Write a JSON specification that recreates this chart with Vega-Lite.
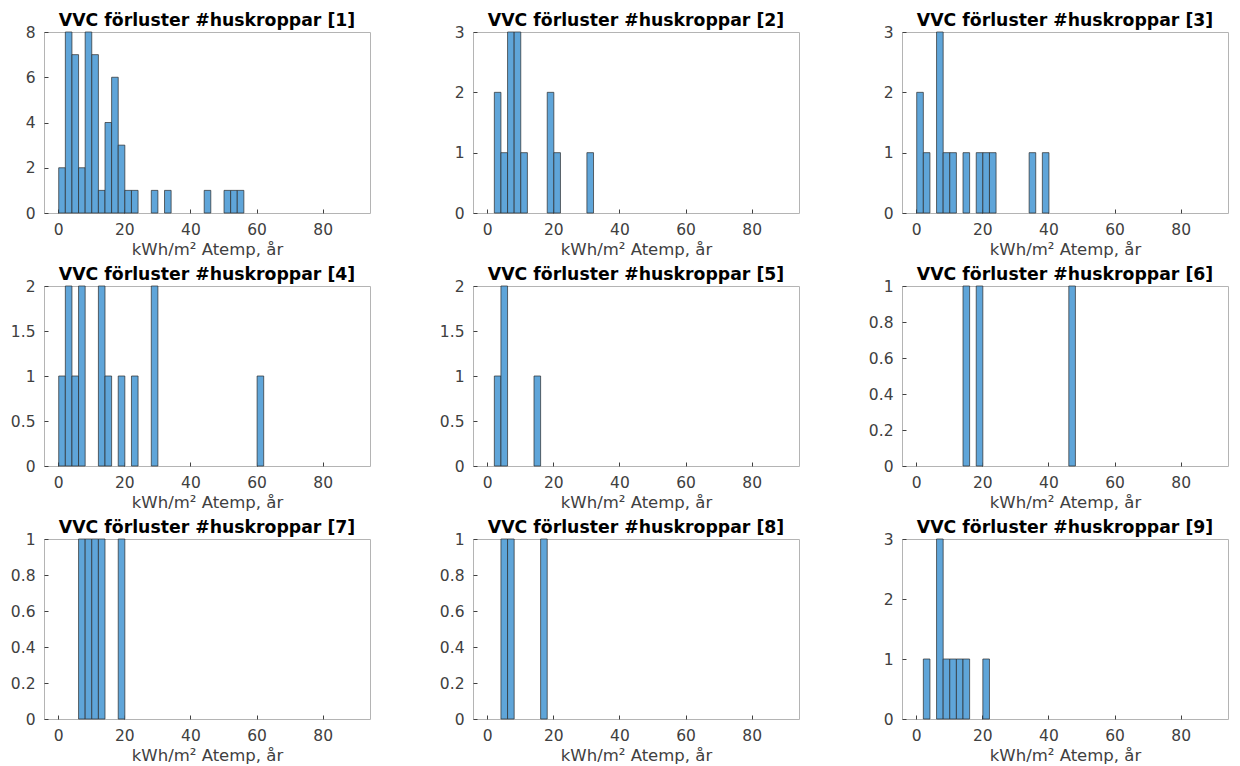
{
  "$schema": "https://vega.github.io/schema/vega-lite/v6.json",
  "padding": {"left": 9, "top": 11, "right": 5, "bottom": 5},
  "background": "white",
  "bounds": "flush",
  "columns": 3,
  "spacing": {"row": 73, "column": 103},
  "config": {
    "font": "DejaVu Sans",
    "view": {"stroke": "#b4b4b4", "strokeWidth": 1},
    "title": {"font": "DejaVu Sans", "fontSize": 17.3, "fontWeight": "bold", "color": "#000000", "offset": -4},
    "bar": {"binSpacing": 0},
    "axis": {
      "labelFont": "DejaVu Sans", "labelFontSize": 15.5, "labelColor": "#404040",
      "titleFont": "DejaVu Sans", "titleFontSize": 16.5, "titleFontWeight": "normal", "titleColor": "#404040",
      "grid": false, "domain": false, "tickColor": "#404040", "tickSize": -4, "tickWidth": 1, "format": "~g"
    },
    "axisX": {"labelPadding": 13, "titlePadding": 4, "labelFlush": false},
    "axisY": {"labelPadding": 13, "title": null, "labelFlush": false}
  },
  "data": {"values": [
    {"panel": 1, "bin_start": 0, "bin_end": 2, "count": 2},
    {"panel": 1, "bin_start": 2, "bin_end": 4, "count": 8},
    {"panel": 1, "bin_start": 4, "bin_end": 6, "count": 7},
    {"panel": 1, "bin_start": 6, "bin_end": 8, "count": 2},
    {"panel": 1, "bin_start": 8, "bin_end": 10, "count": 8},
    {"panel": 1, "bin_start": 10, "bin_end": 12, "count": 7},
    {"panel": 1, "bin_start": 12, "bin_end": 14, "count": 1},
    {"panel": 1, "bin_start": 14, "bin_end": 16, "count": 4},
    {"panel": 1, "bin_start": 16, "bin_end": 18, "count": 6},
    {"panel": 1, "bin_start": 18, "bin_end": 20, "count": 3},
    {"panel": 1, "bin_start": 20, "bin_end": 22, "count": 1},
    {"panel": 1, "bin_start": 22, "bin_end": 24, "count": 1},
    {"panel": 1, "bin_start": 28, "bin_end": 30, "count": 1},
    {"panel": 1, "bin_start": 32, "bin_end": 34, "count": 1},
    {"panel": 1, "bin_start": 44, "bin_end": 46, "count": 1},
    {"panel": 1, "bin_start": 50, "bin_end": 52, "count": 1},
    {"panel": 1, "bin_start": 52, "bin_end": 54, "count": 1},
    {"panel": 1, "bin_start": 54, "bin_end": 56, "count": 1},
    {"panel": 2, "bin_start": 2, "bin_end": 4, "count": 2},
    {"panel": 2, "bin_start": 4, "bin_end": 6, "count": 1},
    {"panel": 2, "bin_start": 6, "bin_end": 8, "count": 3},
    {"panel": 2, "bin_start": 8, "bin_end": 10, "count": 3},
    {"panel": 2, "bin_start": 10, "bin_end": 12, "count": 1},
    {"panel": 2, "bin_start": 18, "bin_end": 20, "count": 2},
    {"panel": 2, "bin_start": 20, "bin_end": 22, "count": 1},
    {"panel": 2, "bin_start": 30, "bin_end": 32, "count": 1},
    {"panel": 3, "bin_start": 0, "bin_end": 2, "count": 2},
    {"panel": 3, "bin_start": 2, "bin_end": 4, "count": 1},
    {"panel": 3, "bin_start": 6, "bin_end": 8, "count": 3},
    {"panel": 3, "bin_start": 8, "bin_end": 10, "count": 1},
    {"panel": 3, "bin_start": 10, "bin_end": 12, "count": 1},
    {"panel": 3, "bin_start": 14, "bin_end": 16, "count": 1},
    {"panel": 3, "bin_start": 18, "bin_end": 20, "count": 1},
    {"panel": 3, "bin_start": 20, "bin_end": 22, "count": 1},
    {"panel": 3, "bin_start": 22, "bin_end": 24, "count": 1},
    {"panel": 3, "bin_start": 34, "bin_end": 36, "count": 1},
    {"panel": 3, "bin_start": 38, "bin_end": 40, "count": 1},
    {"panel": 4, "bin_start": 0, "bin_end": 2, "count": 1},
    {"panel": 4, "bin_start": 2, "bin_end": 4, "count": 2},
    {"panel": 4, "bin_start": 4, "bin_end": 6, "count": 1},
    {"panel": 4, "bin_start": 6, "bin_end": 8, "count": 2},
    {"panel": 4, "bin_start": 12, "bin_end": 14, "count": 2},
    {"panel": 4, "bin_start": 14, "bin_end": 16, "count": 1},
    {"panel": 4, "bin_start": 18, "bin_end": 20, "count": 1},
    {"panel": 4, "bin_start": 22, "bin_end": 24, "count": 1},
    {"panel": 4, "bin_start": 28, "bin_end": 30, "count": 2},
    {"panel": 4, "bin_start": 60, "bin_end": 62, "count": 1},
    {"panel": 5, "bin_start": 2, "bin_end": 4, "count": 1},
    {"panel": 5, "bin_start": 4, "bin_end": 6, "count": 2},
    {"panel": 5, "bin_start": 14, "bin_end": 16, "count": 1},
    {"panel": 6, "bin_start": 14, "bin_end": 16, "count": 1},
    {"panel": 6, "bin_start": 18, "bin_end": 20, "count": 1},
    {"panel": 6, "bin_start": 46, "bin_end": 48, "count": 1},
    {"panel": 7, "bin_start": 6, "bin_end": 8, "count": 1},
    {"panel": 7, "bin_start": 8, "bin_end": 10, "count": 1},
    {"panel": 7, "bin_start": 10, "bin_end": 12, "count": 1},
    {"panel": 7, "bin_start": 12, "bin_end": 14, "count": 1},
    {"panel": 7, "bin_start": 18, "bin_end": 20, "count": 1},
    {"panel": 8, "bin_start": 4, "bin_end": 6, "count": 1},
    {"panel": 8, "bin_start": 6, "bin_end": 8, "count": 1},
    {"panel": 8, "bin_start": 16, "bin_end": 18, "count": 1},
    {"panel": 9, "bin_start": 2, "bin_end": 4, "count": 1},
    {"panel": 9, "bin_start": 6, "bin_end": 8, "count": 3},
    {"panel": 9, "bin_start": 8, "bin_end": 10, "count": 1},
    {"panel": 9, "bin_start": 10, "bin_end": 12, "count": 1},
    {"panel": 9, "bin_start": 12, "bin_end": 14, "count": 1},
    {"panel": 9, "bin_start": 14, "bin_end": 16, "count": 1},
    {"panel": 9, "bin_start": 20, "bin_end": 22, "count": 1}
  ]},
  "concat": [
    {"title": "VVC förluster #huskroppar [1]", "width": 326, "height": 181,
     "transform": [{"filter": "datum.panel == 1"}],
     "mark": {"type": "bar", "fill": "#5fa5d9", "stroke": "#2b2b2b", "strokeWidth": 0.7},
     "encoding": {
       "x": {"field": "bin_start", "type": "quantitative", "bin": {"binned": true, "step": 2}, "scale": {"domain": [-4.3, 94.3], "nice": false, "zero": false}, "axis": {"values": [0, 20, 40, 60, 80], "title": "kWh/m² Atemp, år"}},
       "x2": {"field": "bin_end"},
       "y": {"field": "count", "type": "quantitative", "scale": {"domain": [0, 8], "nice": false}, "axis": {"values": [0, 2, 4, 6, 8]}}
     }},
    {"title": "VVC förluster #huskroppar [2]", "width": 326, "height": 181,
     "transform": [{"filter": "datum.panel == 2"}],
     "mark": {"type": "bar", "fill": "#5fa5d9", "stroke": "#2b2b2b", "strokeWidth": 0.7},
     "encoding": {
       "x": {"field": "bin_start", "type": "quantitative", "bin": {"binned": true, "step": 2}, "scale": {"domain": [-4.3, 94.3], "nice": false, "zero": false}, "axis": {"values": [0, 20, 40, 60, 80], "title": "kWh/m² Atemp, år"}},
       "x2": {"field": "bin_end"},
       "y": {"field": "count", "type": "quantitative", "scale": {"domain": [0, 3], "nice": false}, "axis": {"values": [0, 1, 2, 3]}}
     }},
    {"title": "VVC förluster #huskroppar [3]", "width": 326, "height": 181,
     "transform": [{"filter": "datum.panel == 3"}],
     "mark": {"type": "bar", "fill": "#5fa5d9", "stroke": "#2b2b2b", "strokeWidth": 0.7},
     "encoding": {
       "x": {"field": "bin_start", "type": "quantitative", "bin": {"binned": true, "step": 2}, "scale": {"domain": [-4.3, 94.3], "nice": false, "zero": false}, "axis": {"values": [0, 20, 40, 60, 80], "title": "kWh/m² Atemp, år"}},
       "x2": {"field": "bin_end"},
       "y": {"field": "count", "type": "quantitative", "scale": {"domain": [0, 3], "nice": false}, "axis": {"values": [0, 1, 2, 3]}}
     }},
    {"title": "VVC förluster #huskroppar [4]", "width": 326, "height": 180,
     "transform": [{"filter": "datum.panel == 4"}],
     "mark": {"type": "bar", "fill": "#5fa5d9", "stroke": "#2b2b2b", "strokeWidth": 0.7},
     "encoding": {
       "x": {"field": "bin_start", "type": "quantitative", "bin": {"binned": true, "step": 2}, "scale": {"domain": [-4.3, 94.3], "nice": false, "zero": false}, "axis": {"values": [0, 20, 40, 60, 80], "title": "kWh/m² Atemp, år"}},
       "x2": {"field": "bin_end"},
       "y": {"field": "count", "type": "quantitative", "scale": {"domain": [0, 2], "nice": false}, "axis": {"values": [0, 0.5, 1, 1.5, 2]}}
     }},
    {"title": "VVC förluster #huskroppar [5]", "width": 326, "height": 180,
     "transform": [{"filter": "datum.panel == 5"}],
     "mark": {"type": "bar", "fill": "#5fa5d9", "stroke": "#2b2b2b", "strokeWidth": 0.7},
     "encoding": {
       "x": {"field": "bin_start", "type": "quantitative", "bin": {"binned": true, "step": 2}, "scale": {"domain": [-4.3, 94.3], "nice": false, "zero": false}, "axis": {"values": [0, 20, 40, 60, 80], "title": "kWh/m² Atemp, år"}},
       "x2": {"field": "bin_end"},
       "y": {"field": "count", "type": "quantitative", "scale": {"domain": [0, 2], "nice": false}, "axis": {"values": [0, 0.5, 1, 1.5, 2]}}
     }},
    {"title": "VVC förluster #huskroppar [6]", "width": 326, "height": 180,
     "transform": [{"filter": "datum.panel == 6"}],
     "mark": {"type": "bar", "fill": "#5fa5d9", "stroke": "#2b2b2b", "strokeWidth": 0.7},
     "encoding": {
       "x": {"field": "bin_start", "type": "quantitative", "bin": {"binned": true, "step": 2}, "scale": {"domain": [-4.3, 94.3], "nice": false, "zero": false}, "axis": {"values": [0, 20, 40, 60, 80], "title": "kWh/m² Atemp, år"}},
       "x2": {"field": "bin_end"},
       "y": {"field": "count", "type": "quantitative", "scale": {"domain": [0, 1], "nice": false}, "axis": {"values": [0, 0.2, 0.4, 0.6, 0.8, 1]}}
     }},
    {"title": "VVC förluster #huskroppar [7]", "width": 326, "height": 180,
     "transform": [{"filter": "datum.panel == 7"}],
     "mark": {"type": "bar", "fill": "#5fa5d9", "stroke": "#2b2b2b", "strokeWidth": 0.7},
     "encoding": {
       "x": {"field": "bin_start", "type": "quantitative", "bin": {"binned": true, "step": 2}, "scale": {"domain": [-4.3, 94.3], "nice": false, "zero": false}, "axis": {"values": [0, 20, 40, 60, 80], "title": "kWh/m² Atemp, år"}},
       "x2": {"field": "bin_end"},
       "y": {"field": "count", "type": "quantitative", "scale": {"domain": [0, 1], "nice": false}, "axis": {"values": [0, 0.2, 0.4, 0.6, 0.8, 1]}}
     }},
    {"title": "VVC förluster #huskroppar [8]", "width": 326, "height": 180,
     "transform": [{"filter": "datum.panel == 8"}],
     "mark": {"type": "bar", "fill": "#5fa5d9", "stroke": "#2b2b2b", "strokeWidth": 0.7},
     "encoding": {
       "x": {"field": "bin_start", "type": "quantitative", "bin": {"binned": true, "step": 2}, "scale": {"domain": [-4.3, 94.3], "nice": false, "zero": false}, "axis": {"values": [0, 20, 40, 60, 80], "title": "kWh/m² Atemp, år"}},
       "x2": {"field": "bin_end"},
       "y": {"field": "count", "type": "quantitative", "scale": {"domain": [0, 1], "nice": false}, "axis": {"values": [0, 0.2, 0.4, 0.6, 0.8, 1]}}
     }},
    {"title": "VVC förluster #huskroppar [9]", "width": 326, "height": 180,
     "transform": [{"filter": "datum.panel == 9"}],
     "mark": {"type": "bar", "fill": "#5fa5d9", "stroke": "#2b2b2b", "strokeWidth": 0.7},
     "encoding": {
       "x": {"field": "bin_start", "type": "quantitative", "bin": {"binned": true, "step": 2}, "scale": {"domain": [-4.3, 94.3], "nice": false, "zero": false}, "axis": {"values": [0, 20, 40, 60, 80], "title": "kWh/m² Atemp, år"}},
       "x2": {"field": "bin_end"},
       "y": {"field": "count", "type": "quantitative", "scale": {"domain": [0, 3], "nice": false}, "axis": {"values": [0, 1, 2, 3]}}
     }}
  ]
}
